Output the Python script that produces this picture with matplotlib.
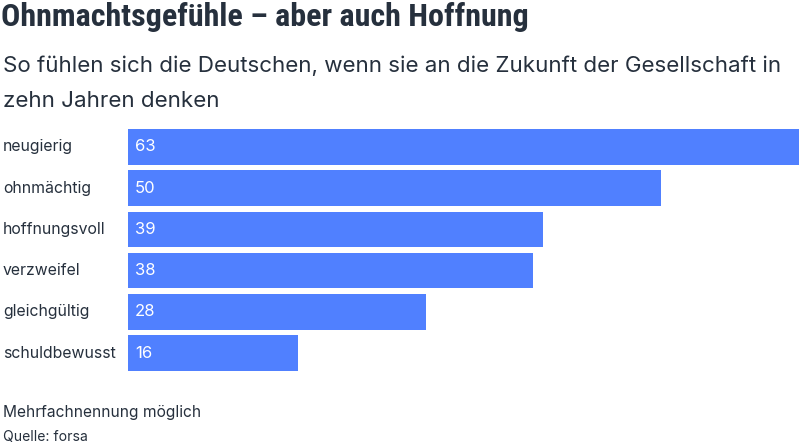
import matplotlib
matplotlib.use("Agg")
import matplotlib.pyplot as plt

# Daten
categories = ['neugierig', 'ohnmächtig', 'hoffnungsvoll', 'verzweifel', 'gleichgültig', 'schuldbewusst']
values = [63, 50, 39, 38, 28, 16]

title = 'Ohnmachtsgefühle – aber auch Hoffnung'
subtitle_1 = 'So fühlen sich die Deutschen, wenn sie an die Zukunft der Gesellschaft in'
subtitle_2 = 'zehn Jahren denken'
note = 'Mehrfachnennung möglich'
source = 'Quelle: forsa'

bar_color = '#5080ff'
text_color = '#26303d'

W, H = 800, 446
fig = plt.figure(figsize=(W / 100, H / 100), dpi=100)


def fy(px):
    # Pixel von oben -> Figure-Koordinate
    return 1 - px / H


# Balken
ax = fig.add_axes([128 / W, fy(371), 671 / W, 242 / H])
y = range(len(categories))
ax.barh(y, values, height=0.86, color=bar_color)
ax.set_xlim(0, max(values))
ax.set_ylim(len(categories) - 1 + 0.43, -0.43)
ax.axis('off')

for i, (cat, v) in enumerate(zip(categories, values)):
    ax.text(0.65, i, str(v), color='white', fontsize=12, family='Inter',
            va='center', ha='left')
    # Kategorie links neben der Achse
    ax.annotate(cat, xy=(0, i), xycoords=('axes fraction', 'data'),
                xytext=(-125, 0), textcoords='offset pixels',
                fontsize=11.4, family='Inter', color=text_color,
                va='center', ha='left')

# Überschriften
fig.text(1 / W, fy(26), title, fontsize=23, family='Roboto Condensed',
         fontweight='bold', color=text_color, va='baseline')
fig.text(3 / W, fy(72), subtitle_1, fontsize=16.1, family='Inter',
         color=text_color, va='baseline')
fig.text(3 / W, fy(107), subtitle_2, fontsize=16.1, family='Inter',
         color=text_color, va='baseline')

# Fußnoten
fig.text(3 / W, fy(417), note, fontsize=11.2, family='Inter',
         color=text_color, va='baseline')
fig.text(3 / W, fy(441), source, fontsize=10.1, family='Inter',
         color=text_color, va='baseline')

fig.savefig('out.png', dpi=100)
